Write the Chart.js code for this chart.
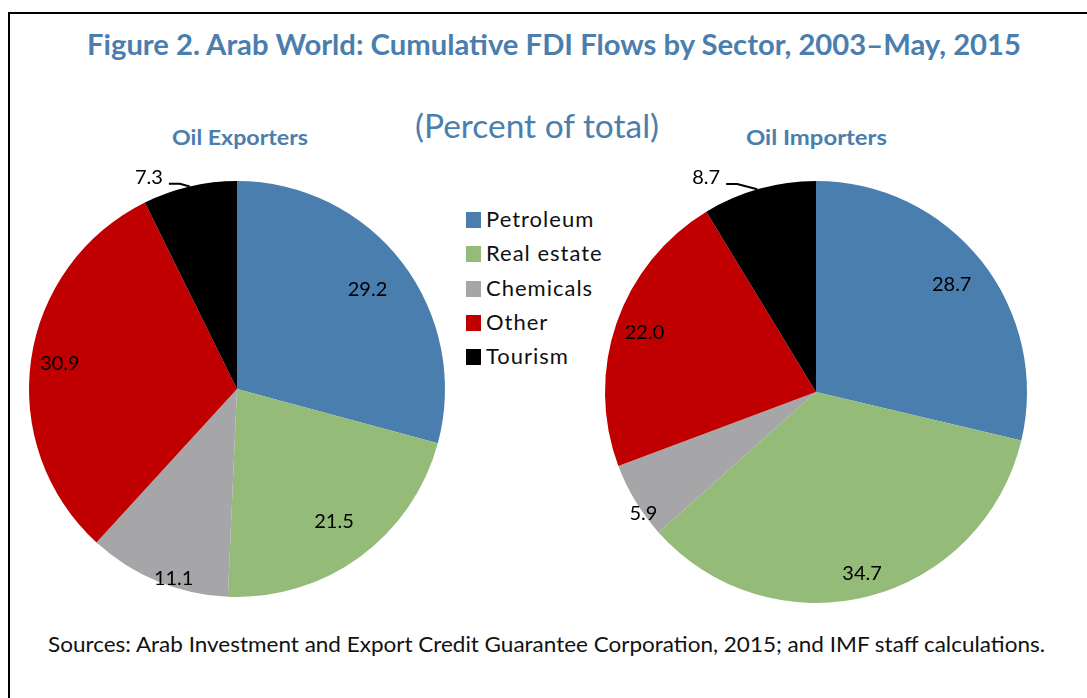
<!DOCTYPE html>
<html>
<head>
<meta charset="utf-8">
<script src="https://cdn.jsdelivr.net/npm/chart.js@4.4.1/dist/chart.umd.min.js"></script>
<style>
  body { margin: 0; background: #fff; }
  #page { position: relative; width: 1087px; height: 698px; overflow: hidden; font-family: Lato, "Open Sans", sans-serif; }
  #frame { position: absolute; left: 8px; top: 12px; width: 1100px; height: 720px; border-left: 2px solid #000; border-top: 2px solid #000; }
  .txt { position: absolute; white-space: nowrap; line-height: 1; }
  .blue { color: #4a7eae; }
  canvas { position: absolute; }
  .key { position: absolute; width: 15px; height: 16px; }
</style>
</head>
<body>
<div id="page">
  <div id="frame"></div>
  <div class="txt blue fit" id="title" style="font-weight:700;font-size:28px;top:30px;" data-w="934" data-cx="554">Figure 2. Arab World: Cumulative FDI Flows by Sector, 2003–May, 2015</div>
  <div class="txt blue fit" style="font-size:32px;top:110px;" data-w="244" data-cx="537">(Percent of total)</div>
  <div class="txt blue fit" style="font-weight:700;font-size:21px;top:126px;" data-w="136" data-cx="240">Oil Exporters</div>
  <div class="txt blue fit" style="font-weight:700;font-size:21px;top:126px;" data-w="141" data-cx="816">Oil Importers</div>
  <div id="legend"></div>
  <canvas id="pieLeft" width="480" height="480" style="left:-3px;top:149px;width:480px;height:480px;"></canvas>
  <canvas id="pieRight" width="480" height="480" style="left:576px;top:152px;width:480px;height:480px;"></canvas>
  <div class="txt fit" style="font-size:20.5px;top:634px;color:#111;" data-w="997" data-left="48">Sources: Arab Investment and Export Credit Guarantee Corporation, 2015; and IMF staff calculations.</div>
</div>
<script>
// sectors, clockwise from 12 o'clock
const sectors = ["Petroleum", "Real estate", "Chemicals", "Other", "Tourism"];
const sectorColors = ["#4a7eae", "#95bb78", "#a6a6a8", "#c00000", "#000000"];
const oilExporters = [29.2, 21.5, 11.1, 30.9, 7.3];
const oilImporters = [28.7, 34.7, 5.9, 22.0, 8.7];

// legend
const legend = document.getElementById("legend");
sectors.forEach(function (name, i) {
  const y = 212 + i * 34.3;
  const sq = document.createElement("div");
  sq.className = "key";
  sq.style.left = "466px";
  sq.style.top = y + "px";
  sq.style.background = sectorColors[i];
  legend.appendChild(sq);
  const t = document.createElement("div");
  t.className = "txt";
  t.style.left = "486px";
  t.style.top = (y - 4) + "px";
  t.style.fontSize = "22px";
  t.style.letterSpacing = "1px";
  t.style.color = "#111";
  t.textContent = name;
  legend.appendChild(t);
});

// draws the value labels; place = [radius factor, angle shift in degrees]
const valueLabels = {
  id: "valueLabels",
  afterDatasetsDraw: function (chart, args, opts) {
    const ctx = chart.ctx;
    const meta = chart.getDatasetMeta(0);
    const values = chart.data.datasets[0].data;
    ctx.save();
    ctx.font = "20px Lato";
    ctx.fillStyle = "#000";
    ctx.textAlign = "center";
    ctx.textBaseline = "middle";
    meta.data.forEach(function (arc, i) {
      const p = arc.getProps(["x", "y", "startAngle", "endAngle", "outerRadius"], true);
      const place = opts.place[i];
      const mid = (p.startAngle + p.endAngle) / 2 + place[1] * Math.PI / 180;
      const lx = p.x + Math.cos(mid) * p.outerRadius * place[0];
      const ly = p.y + Math.sin(mid) * p.outerRadius * place[0];
      const text = values[i].toFixed(1);
      ctx.fillText(text, lx, ly);
      if (opts.leader && opts.leader.index === i) {
        const w = ctx.measureText(text).width;
        const sx = lx + w / 2 + 6, sy = ly + 6;
        const ea = (p.startAngle + p.endAngle) / 2 + opts.leader.shift * Math.PI / 180;
        const ex = p.x + Math.cos(ea) * p.outerRadius;
        const ey = p.y + Math.sin(ea) * p.outerRadius;
        ctx.beginPath();
        ctx.strokeStyle = "#000";
        ctx.lineWidth = 2;
        ctx.moveTo(sx, sy);
        ctx.lineTo(sx + 11, sy);
        ctx.lineTo(ex, ey);
        ctx.stroke();
      }
    });
    ctx.restore();
  }
};

function makePie(id, values, radius, place, leader) {
  return new Chart(document.getElementById(id), {
    type: "pie",
    data: {
      labels: sectors,
      datasets: [{
        data: values,
        backgroundColor: sectorColors,
        borderWidth: 0,
        radius: radius
      }]
    },
    options: {
      responsive: false,
      animation: false,
      layout: { padding: 0 },
      plugins: {
        legend: { display: false },
        tooltip: { enabled: false },
        valueLabels: { place: place, leader: leader }
      }
    },
    plugins: [valueLabels]
  });
}

function fitText() {
  document.querySelectorAll(".fit").forEach(function (el) {
    const w = el.getBoundingClientRect().width;
    const target = parseFloat(el.dataset.w);
    const s = target / w;
    el.style.transformOrigin = "left top";
    el.style.transform = "scaleX(" + s + ")";
    if (el.dataset.cx) el.style.left = (parseFloat(el.dataset.cx) - target / 2) + "px";
    else el.style.left = el.dataset.left + "px";
  });
}

function draw() {
  fitText();
  makePie("pieLeft", oilExporters, 208,
    [[0.79, 0], [0.79, 0], [0.96, -4], [0.86, 0], [1.1, -9.5]],
    { index: 4, shift: 0 });
  makePie("pieRight", oilImporters, 211,
    [[0.82, 0], [0.89, 0], [1.0, -4], [0.86, 0], [1.14, -11.5]],
    { index: 4, shift: -0.5 });
}

if (document.fonts && document.fonts.ready) {
  document.fonts.load("20px Lato").then(function () { return document.fonts.load("bold 20px Lato"); }).then(draw, draw);
} else {
  draw();
}
</script>
</body>
</html>
